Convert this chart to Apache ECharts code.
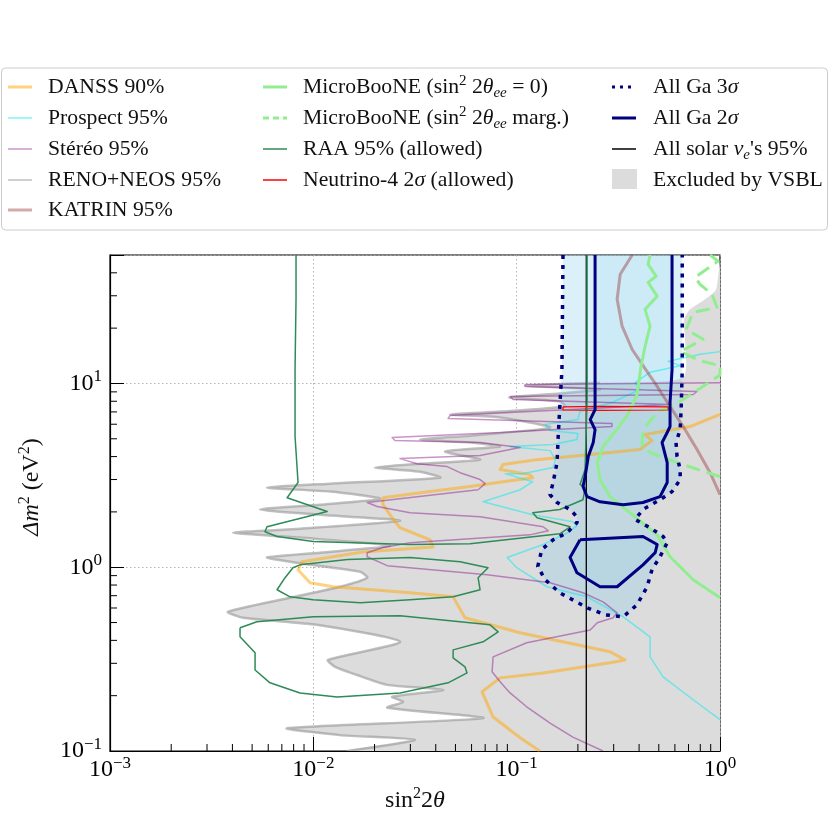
<!DOCTYPE html>
<html><head><meta charset="utf-8">
<script src="https://cdn.jsdelivr.net/npm/echarts@6/dist/echarts.min.js"></script>
<style>html,body{margin:0;padding:0;background:#fff}#c{width:830px;height:830px}</style>
</head><body><div id="c"></div>
<script>
// ---------------- data (sin^2 2theta , Delta m^2 [eV^2]) ----------------
const xRange = [0.001, 1];
const yRange = [0.1, 50];
const xTickValues = [0.001, 0.01, 0.1, 1];
const yTickValues = [0.1, 1, 10];
const xTitle = 'sin{sup|2}2{it|θ}';
const yTitle = '{it|Δm}{sup|2} (eV{sup|2})';

const vsblTop = [[1.0,46.3],[0.957,32.5],[0.845,28.7],[0.713,25.3],[0.666,22.3],[0.659,10.8]];
const renoNeos = [[0.257,10.1],[0.110,9.75],[0.257,9.27],[0.163,8.82],[0.0918,8.39],[0.163,7.98],[0.173,7.49],[0.0829,7.03],[0.0470,6.78],[0.0829,6.53],[0.146,5.76],[0.0590,5.20],[0.0335,4.95],[0.0590,4.77],[0.0829,4.54],[0.0445,4.26],[0.0661,3.85],[0.0335,3.66],[0.0201,3.49],[0.0335,3.31],[0.0420,3.07],[0.0121,2.85],[0.00592,2.71],[0.0121,2.58],[0.0213,2.36],[0.0108,2.19],[0.00547,2.06],[0.0108,1.93],[0.0267,1.79],[0.00860,1.62],[0.00403,1.54],[0.00860,1.45],[0.0238,1.31],[0.0108,1.20],[0.00592,1.13],[0.00860,1.05],[0.0170,0.944],[0.0184,0.877],[0.0135,0.783],[0.00768,0.682],[0.00380,0.572],[0.00451,0.531],[0.0104,0.486],[0.0267,0.393],[0.0118,0.313],[0.0128,0.287],[0.0164,0.259],[0.0231,0.229],[0.0435,0.215],[0.0244,0.197],[0.0276,0.185],[0.0231,0.172],[0.0684,0.151],[0.00743,0.133],[0.0135,0.122],[0.0316,0.115],[0.0147,0.100]];
const vsblBottom = [[1.0,0.100]];

const danss = [[1.0,6.78],[0.713,5.83],[0.428,5.27],[0.463,4.89],[0.404,4.37],[0.230,4.10],[0.126,3.85],[0.0857,3.62],[0.0829,3.40],[0.116,3.19],[0.120,3.07],[0.0857,2.92],[0.0590,2.75],[0.0375,2.58],[0.0220,2.39],[0.0220,2.19],[0.0247,1.82],[0.0267,1.64],[0.0375,1.41],[0.0388,1.29],[0.0175,1.21],[0.00879,1.07],[0.00841,0.969],[0.00963,0.824],[0.0125,0.783],[0.0299,0.726],[0.0487,0.690],[0.0557,0.531],[0.104,0.440],[0.288,0.347],[0.341,0.313],[0.288,0.302],[0.135,0.266],[0.0829,0.250],[0.0676,0.210],[0.0766,0.153],[0.104,0.118],[0.130,0.100]];

const prospect = [[1.0,14.9],[0.798,14.4],[0.556,13.2],[0.637,12.5],[0.453,11.5],[0.382,10.1],[0.404,9.27],[0.294,7.88],[0.205,7.03],[0.200,6.36],[0.138,5.98],[0.146,5.54],[0.200,5.34],[0.198,4.95],[0.151,4.65],[0.0928,4.54],[0.146,4.31],[0.155,3.85],[0.151,3.49],[0.107,3.23],[0.0877,3.23],[0.120,2.92],[0.104,2.64],[0.0684,2.27],[0.120,1.93],[0.189,1.77],[0.198,1.68],[0.177,1.54],[0.135,1.33],[0.0898,1.13],[0.100,0.994],[0.141,0.783],[0.222,0.690],[0.334,0.537],[0.453,0.418],[0.453,0.325],[0.525,0.253],[0.738,0.190],[1.0,0.148]];

const stereo = [[1.0,10.1],[0.110,9.88],[0.110,9.63],[0.771,9.04],[0.738,8.71],[0.0928,8.49],[0.0960,8.18],[0.568,7.69],[0.0470,6.69],[0.0460,6.45],[0.294,6.05],[0.294,5.83],[0.0829,5.41],[0.0244,5.08],[0.0252,4.89],[0.0661,4.77],[0.104,4.48],[0.0661,4.05],[0.0267,3.90],[0.0324,3.66],[0.0455,3.53],[0.0527,3.27],[0.0661,3.00],[0.0700,2.85],[0.0646,2.64],[0.0184,2.25],[0.0206,2.14],[0.0299,1.98],[0.0661,1.88],[0.135,1.66],[0.143,1.58],[0.116,1.50],[0.0299,1.36],[0.0220,1.28],[0.0184,1.20],[0.0184,1.14],[0.0231,1.02],[0.0715,0.910],[0.146,0.824],[0.212,0.726],[0.266,0.648],[0.312,0.565],[0.298,0.531],[0.249,0.499],[0.230,0.456],[0.112,0.388],[0.0766,0.325],[0.0757,0.270],[0.0829,0.238],[0.0928,0.207],[0.112,0.174],[0.146,0.142],[0.189,0.119],[0.266,0.100]];

const katrin = [[0.370,50],[0.323,39.3],[0.312,28.7],[0.330,20.5],[0.370,15.3],[0.438,11.6],[0.491,9.63],[0.568,7.49],[0.659,5.83],[0.771,4.37],[0.894,3.27],[1.0,2.48]];

const microbooneZero = [[0.453,50],[0.443,44.5],[0.485,38.3],[0.443,35.5],[0.491,29.8],[0.428,25.3],[0.453,20.5],[0.428,15.9],[0.409,12.4],[0.391,8.71],[0.353,6.78],[0.305,5.47],[0.266,4.54],[0.249,3.71],[0.257,3.00],[0.288,2.42],[0.361,1.98],[0.491,1.50],[0.568,1.14],[0.738,0.855],[1.0,0.682]];

const microbooneMarg = [[0.894,50],[0.978,46.3],[0.755,37.8],[0.798,34.6],[0.914,30.6],[0.967,25.9],[0.738,24.4],[0.681,19.7],[0.826,17.4],[0.637,14.9],[0.798,13.3],[1.0,12.5],[1.0,11.1],[0.659,8.18],[0.491,6.95],[0.418,5.61],[0.414,4.54],[0.453,4.21],[0.615,3.71],[1.0,3.11]];

const raaMain = [[0.00822,50],[0.00822,28.7],[0.00813,11.9],[0.00813,5.14],[0.00841,2.89],[0.00743,2.39],[0.0117,2.01],[0.00592,1.66],[0.00578,1.56],[0.00663,1.47],[0.00998,1.38],[0.0299,1.33],[0.0590,1.34],[0.163,1.52],[0.183,1.66],[0.126,1.86],[0.120,1.98],[0.163,2.06],[0.212,2.33],[0.217,2.71],[0.205,2.82],[0.217,3.40],[0.222,8.18],[0.222,50]];
const raaMid = [[0.00860,1.03],[0.0147,1.10],[0.0299,1.13],[0.0527,1.07],[0.0723,0.994],[0.0646,0.877],[0.0661,0.754],[0.0487,0.690],[0.0299,0.665],[0.0170,0.641],[0.00998,0.665],[0.00768,0.690],[0.00663,0.754],[0.00726,0.877],[0.00794,0.994],[0.00860,1.03]];
const raaLow = [[0.00436,0.468],[0.00528,0.505],[0.0100,0.537],[0.0267,0.544],[0.0740,0.486],[0.0811,0.445],[0.0684,0.393],[0.0487,0.355],[0.0487,0.321],[0.0557,0.287],[0.0570,0.266],[0.0460,0.235],[0.0267,0.207],[0.0131,0.197],[0.00860,0.207],[0.00612,0.235],[0.00517,0.276],[0.00517,0.342],[0.00436,0.418],[0.00436,0.468]];

const neutrino4 = [[0.169,7.45],[0.257,7.50],[0.556,7.45],[0.563,7.31],[0.556,7.17],[0.257,7.13],[0.169,7.17],[0.169,7.45]];

const ga3 = [[0.169,50],[0.167,11.9],[0.163,7.49],[0.160,5.14],[0.158,3.71],[0.151,2.89],[0.146,2.48],[0.158,2.25],[0.183,2.06],[0.198,1.88],[0.198,1.75],[0.177,1.54],[0.151,1.41],[0.133,1.25],[0.127,1.01],[0.138,0.855],[0.163,0.726],[0.222,0.602],[0.272,0.551],[0.334,0.537],[0.391,0.625],[0.438,0.783],[0.463,0.969],[0.507,1.14],[0.550,1.36],[0.525,1.47],[0.453,1.64],[0.382,1.82],[0.418,2.06],[0.507,2.33],[0.581,2.58],[0.637,3.00],[0.637,3.40],[0.615,4.00],[0.608,4.77],[0.637,5.61],[0.644,7.21],[0.652,11.9],[0.652,50]];
const ga2Upper = [[0.243,50],[0.243,7.21],[0.230,6.36],[0.243,5.61],[0.238,4.77],[0.225,4.00],[0.217,3.11],[0.212,2.75],[0.222,2.42],[0.257,2.27],[0.334,2.19],[0.418,2.25],[0.507,2.42],[0.550,2.89],[0.550,3.71],[0.519,4.77],[0.550,5.41],[0.568,5.83],[0.568,7.88],[0.581,11.9],[0.581,50]];
const ga2Lower = [[0.205,1.41],[0.418,1.47],[0.491,1.33],[0.480,1.20],[0.418,1.03],[0.312,0.783],[0.257,0.783],[0.198,0.933],[0.183,1.13],[0.205,1.41]];

const solarX = 0.22;
const solar = [[solarX, 0.1],[solarX, 50]];

const legendLabels = [
  ['DANSS 90%', 'Prospect 95%', 'Stéréo 95%', 'RENO+NEOS 95%', 'KATRIN 95%'],
  ['MicroBooNE (sin{sup|2} 2{it|θ}{sub|ee} = 0)', 'MicroBooNE (sin{sup|2} 2{it|θ}{sub|ee} marg.)', 'RAA 95% (allowed)', 'Neutrino-4 2{it|σ} (allowed)'],
  ['All Ga 3{it|σ}', 'All Ga 2{it|σ}', 'All solar {it|ν}{sub|e}\'s 95%', 'Excluded by VSBL']
];

// ---------------- styles ----------------
const FONT = '"Liberation Serif","Times New Roman",serif';
const C = {
  danss: 'rgba(255,165,0,0.5)', prospect: 'rgba(0,235,240,0.5)', stereo: 'rgba(128,0,128,0.42)',
  reno: 'rgba(150,150,150,0.6)', katrin: 'rgba(150,50,50,0.42)', mb: '#90ee90', raa: '#2e8b57',
  n4: '#ff0000', ga: '#000080', solar: '#000000', vsbl: '#dcdcdc'
};

const vsblRegion = vsblTop.concat(renoNeos, vsblBottom);

function clipRect(cs) { return { type: 'rect', shape: { x: cs.x, y: cs.y, width: cs.width, height: cs.height } }; }
function polySeries(region, fill, z, smooth) {
  return {
    type: 'custom', coordinateSystem: 'cartesian2d', z: z, silent: true, animation: false,
    data: [region[0]],
    renderItem: function (params, api) {
      const pts = region.map(p => api.coord(p));
      return { type: 'polygon', shape: { points: pts, smooth: smooth || 0 }, style: { fill: fill, stroke: null },
        clipPath: clipRect(params.coordSys) };
    }
  };
}
function curveSeries(data, color, width, z, smooth, dash) {
  return {
    type: 'custom', coordinateSystem: 'cartesian2d', z: z, silent: true, animation: false,
    data: [data[0]],
    renderItem: function (params, api) {
      const pts = data.map(p => api.coord(p));
      return { type: 'polyline', shape: { points: pts, smooth: smooth || 0 },
        style: { stroke: color, lineWidth: width, fill: null, lineDash: dash || null, lineJoin: 'round' },
        clipPath: clipRect(params.coordSys) };
    }
  };
}
function lineSeries(data, color, width, dash, z) {
  return { type: 'line', data: data, showSymbol: false, symbol: 'none', z: z, silent: true, animation: false, clip: true,
    lineStyle: { color: color, width: width, type: dash || 'solid', cap: 'butt', join: 'round' } };
}
const minorX = [], minorY = [];
for (let e = -3; e < 0; e++) for (let k = 2; k <= 9; k++) minorX.push([k * Math.pow(10, e), yRange[0]]);
for (let e = -1; e < 2; e++) for (let k = 2; k <= 9; k++) { const v = k * Math.pow(10, e); if (v < yRange[1]) minorY.push([xRange[0], v]); }

function tickSeries(data, horiz) {
  return { type: 'custom', coordinateSystem: 'cartesian2d', z: 10, silent: true, animation: false, data: data,
    renderItem: function (params, api) {
      const p = api.coord([api.value(0), api.value(1)]);
      const s = horiz ? { x1: p[0], y1: p[1], x2: p[0], y2: p[1] - 7 } : { x1: p[0], y1: p[1], x2: p[0] + 7, y2: p[1] };
      return { type: 'line', shape: s, style: { stroke: '#000', lineWidth: 1 } };
    } };
}

function fmtPow(v) {
  const l = Math.log10(v), e = Math.round(l);
  if (Math.abs(l - e) > 1e-6) return '';
  return '{b|10}{s|' + (e < 0 ? '−' + (-e) : e) + '}';
}
const tickRich = {
  b: { fontSize: 24, fontFamily: FONT, color: '#000', lineHeight: 30 },
  s: { fontSize: 17, fontFamily: FONT, color: '#000', verticalAlign: 'top', lineHeight: 30 }
};
const axisCommon = {
  type: 'log', logBase: 10,
  axisLine: { show: true, lineStyle: { color: '#000', width: 1.2 } },
  axisTick: { show: true, inside: true, length: 14, lineStyle: { color: '#000', width: 1 } },
  splitLine: { show: true, lineStyle: { color: '#aaaaaa', width: 0.9, type: [1.5, 2.5] } },
  minorTick: { show: false }, minorSplitLine: { show: false }
};

// ---------------- legend (graphic) ----------------
function txt(x, y, text, fs, extra) {
  const rich = {
    sup: { fontSize: Math.round(fs * 0.68), fontFamily: FONT, fill: '#111', verticalAlign: 'top', lineHeight: fs + 6 },
    sub: { fontSize: Math.round(fs * 0.68), fontFamily: FONT, fontStyle: 'italic', fill: '#111', verticalAlign: 'bottom', lineHeight: fs + 6 },
    it: { fontSize: fs, fontFamily: FONT, fontStyle: 'italic', fill: '#111', lineHeight: fs + 6 }
  };
  return Object.assign({ type: 'text', z: 100, silent: true,
    style: { text: text, x: x, y: y, fontSize: fs, fontFamily: FONT, fill: '#111', lineHeight: fs + 6,
      align: 'left', verticalAlign: 'middle', textAlign: 'left', textVerticalAlign: 'middle', rich: rich } }, extra || {});
}
function lg(x1, x2, y, color, w, dash) {
  return { type: 'line', z: 100, silent: true, shape: { x1: x1, y1: y, x2: x2, y2: y },
    style: { stroke: color, lineWidth: w, lineDash: dash || null } };
}
const rows = [87, 118, 149, 180, 210];
const LFS = 21.7;
const graphics = [
  { type: 'rect', z: 90, silent: true, shape: { x: 1.5, y: 68, width: 826, height: 162, r: 4 }, style: { fill: '#fff', stroke: '#cccccc', lineWidth: 1 } },
  lg(8, 32, rows[0], C.danss, 3), lg(8, 32, rows[1], C.prospect, 1.5), lg(8, 32, rows[2], C.stereo, 1.5),
  lg(8, 32, rows[3], '#cfcfcf', 2), lg(8, 32, rows[4], C.katrin, 3),
  lg(263, 287, rows[0], C.mb, 3), lg(263, 287, rows[1], C.mb, 3, [6, 4]), lg(263, 287, rows[2], C.raa, 1.5), lg(263, 287, rows[3], C.n4, 1.5),
  lg(612, 636, rows[0], C.ga, 3, [3, 5]), lg(612, 636, rows[1], C.ga, 3), lg(612, 636, rows[2], C.solar, 1.5),
  { type: 'rect', z: 100, silent: true, shape: { x: 612, y: 169, width: 25, height: 20 }, style: { fill: C.vsbl } }
];
legendLabels[0].forEach((t, i) => graphics.push(txt(48, rows[i], t, LFS)));
legendLabels[1].forEach((t, i) => graphics.push(txt(303, rows[i], t, LFS)));
legendLabels[2].forEach((t, i) => graphics.push(txt(653, rows[i], t, LFS)));
// axis titles
graphics.push(txt(415, 801, xTitle, 24, {}));
graphics[graphics.length - 1].style.align = 'center';
graphics[graphics.length - 1].style.textAlign = 'center';
const yt = txt(0, 0, yTitle, 24, { x: 32, y: 487, rotation: Math.PI / 2 });
yt.style.align = 'center'; yt.style.textAlign = 'center';
graphics.push(yt);

// ---------------- chart ----------------
const chart = echarts.init(document.getElementById('c'), null, { renderer: 'canvas' });
chart.setOption({
  animation: false,
  backgroundColor: '#ffffff',
  textStyle: { fontFamily: FONT },
  grid: { left: 110, top: 255, width: 610, height: 496, show: true, borderColor: '#000', borderWidth: 1.2, backgroundColor: 'transparent' },
  xAxis: Object.assign({}, axisCommon, { min: xRange[0], max: xRange[1],
    axisLabel: { formatter: fmtPow, rich: tickRich, margin: 4, showMinLabel: true, showMaxLabel: true } }),
  yAxis: Object.assign({}, axisCommon, { min: yRange[0], max: yRange[1],
    axisLabel: { formatter: fmtPow, rich: tickRich, margin: 8, showMinLabel: true, showMaxLabel: true } }),
  graphic: graphics,
  series: [
    polySeries(vsblRegion, C.vsbl, 1, 0.2),
    curveSeries(renoNeos, C.reno, 2.5, 2, 0.2),
    polySeries(ga3, 'rgba(135,206,235,0.3)', 3, 0),
    polySeries(ga2Upper, 'rgba(135,206,235,0.17)', 3, 0),
    polySeries(ga2Lower, 'rgba(135,206,235,0.17)', 3, 0),
    lineSeries(danss, C.danss, 3, null, 4),
    lineSeries(prospect, C.prospect, 1.5, null, 4),
    lineSeries(stereo, C.stereo, 1.5, null, 4),
    lineSeries(katrin, C.katrin, 3, null, 4),
    lineSeries(microbooneZero, C.mb, 3, null, 4),
    lineSeries(microbooneMarg, C.mb, 3, [14, 7], 4),
    lineSeries(solar, C.solar, 1.3, null, 5),
    lineSeries(raaMain, C.raa, 1.5, null, 5),
    lineSeries(raaMid, C.raa, 1.5, null, 5),
    lineSeries(raaLow, C.raa, 1.5, null, 5),
    lineSeries(neutrino4, C.n4, 1.2, null, 5),
    curveSeries(ga3, C.ga, 3.5, 6, 0, [4, 6]),
    curveSeries(ga2Upper, C.ga, 3, 6, 0),
    curveSeries(ga2Lower, C.ga, 3, 6, 0),
    tickSeries(minorX, true),
    tickSeries(minorY, false)
  ]
});
</script></body></html>
